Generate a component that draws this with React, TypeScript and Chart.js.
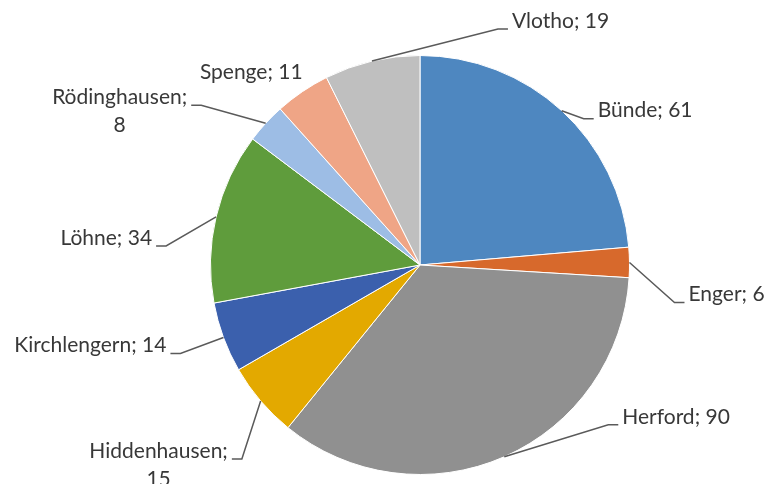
import React, { useEffect, useRef } from "react";
import { Chart, registerables } from "chart.js";

Chart.register(...registerables);

const categories = ["Bünde", "Enger", "Herford", "Hiddenhausen", "Kirchlengern", "Löhne", "Rödinghausen", "Spenge", "Vlotho"];
const values = [61, 6, 90, 15, 14, 34, 8, 11, 19];
const colors = ["#4E87C0", "#D7692C", "#909090", "#E3A900", "#3B60AD", "#5F9C3C", "#9DBDE5", "#EFA586", "#BFBFBF"];

// label layout: offset of the label anchor from the slice's outer edge point (at mid-angle)
const labelLayout = [
  { dx: 36, dy: 0, align: "left", lines: 1, leader: true },
  { dx: 59, dy: 32, align: "left", lines: 1, leader: true },
  { dx: 118, dy: -40, align: "left", lines: 1, leader: true },
  { dx: -102, dy: 50, align: "center", lines: 2, leader: true },
  { dx: -57, dy: 8, align: "right", lines: 1, leader: true },
  { dx: -64, dy: 21, align: "right", lines: 1, leader: true },
  { dx: -146, dy: -26, align: "center", lines: 2, leader: true },
  { dx: -51, dy: -19, align: "center", lines: 1, leader: false },
  { dx: 140, dy: -40, align: "left", lines: 1, leader: true },
];

const FONT = "21px Lato, 'Open Sans', sans-serif";

const labelPlugin = {
  id: "pieLabels",
  afterDatasetsDraw(chart: any) {
    const ctx = chart.ctx as CanvasRenderingContext2D;
    const meta = chart.getDatasetMeta(0);
    ctx.save();
    ctx.font = FONT;
    ctx.textBaseline = "middle";
    meta.data.forEach((arc: any, i: number) => {
      const { x, y, startAngle, endAngle, outerRadius } = arc.getProps(["x", "y", "startAngle", "endAngle", "outerRadius"], true);
      const mid = (startAngle + endAngle) / 2;
      const ex = x + Math.cos(mid) * outerRadius;
      const ey = y + Math.sin(mid) * outerRadius;
      const L = labelLayout[i];
      const ax = ex + L.dx;
      const ay = ey + L.dy;
      const texts = L.lines === 2 ? [categories[i] + ";", String(values[i])] : [categories[i] + "; " + values[i]];
      const lh = 28;
      ctx.fillStyle = "#383838";
      ctx.textAlign = L.align as CanvasTextAlign;
      texts.forEach((t, k) => ctx.fillText(t, ax, ay + k * lh));
      if (L.leader) {
        const w = ctx.measureText(texts[0]).width;
        let left = ax, right = ax;
        if (L.align === "left") right = ax + w;
        else if (L.align === "right") left = ax - w;
        else { left = ax - w / 2; right = ax + w / 2; }
        const onLeftOfText = ex < left;
        const attachX = onLeftOfText ? left - 4 : right + 4;
        const attachY = ay + 8;
        const elbowX = onLeftOfText ? attachX - 10 : attachX + 10;
        ctx.strokeStyle = "#5a5a5a";
        ctx.lineWidth = 1.5;
        ctx.beginPath();
        ctx.moveTo(ex, ey);
        ctx.lineTo(elbowX, attachY);
        ctx.lineTo(attachX, attachY);
        ctx.stroke();
      }
    });
    ctx.restore();
  },
};

export default function App() {
  const ref = useRef<HTMLCanvasElement>(null);
  useEffect(() => {
    document.body.style.margin = "0";
    const chart = new Chart(ref.current!, {
      type: "pie",
      data: {
        labels: categories,
        datasets: [{ data: values, backgroundColor: colors, borderColor: "#ffffff", borderWidth: 1 }],
      },
      options: {
        animation: false,
        responsive: false,
        layout: { padding: { top: 55, bottom: 9, left: 210, right: 137 } },
        plugins: { legend: { display: false }, tooltip: { enabled: false } },
      },
      plugins: [labelPlugin],
    });
    return () => chart.destroy();
  }, []);
  return <canvas ref={ref} width={767} height={484} style={{ display: "block" }} />;
}
